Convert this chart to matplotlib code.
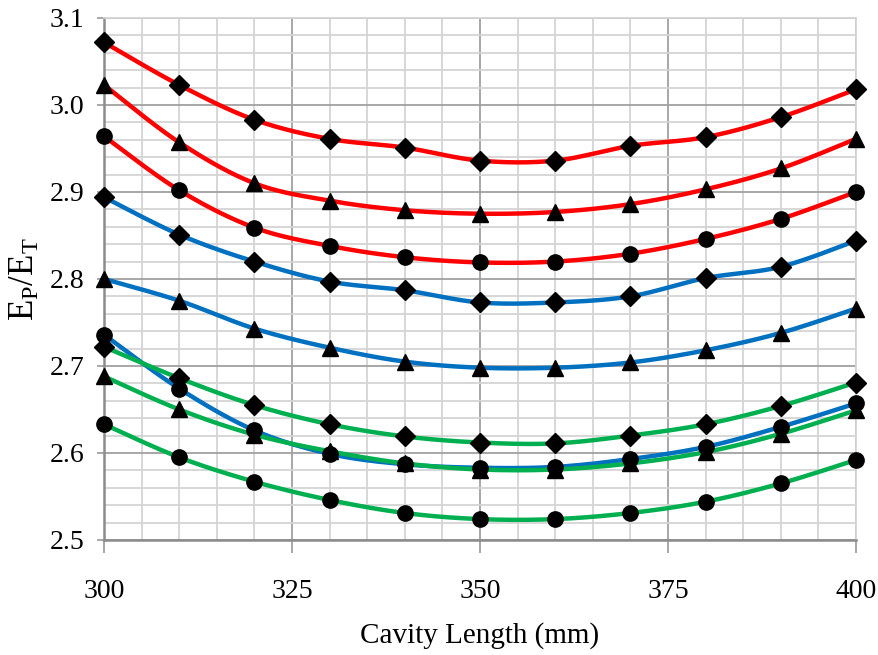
import numpy as np
import matplotlib
matplotlib.use("Agg")
import matplotlib.pyplot as plt
from matplotlib.ticker import MultipleLocator

plt.rcParams['font.family'] = ['Liberation Serif', 'DejaVu Serif']
plt.rcParams['mathtext.fontset'] = 'custom'
plt.rcParams['mathtext.rm'] = 'Liberation Serif'
plt.rcParams['mathtext.it'] = 'Liberation Serif'

cavity_length = [300, 310, 320, 330, 340, 350, 360, 370, 380, 390, 400]

red_diamond   = [3.072, 3.023, 2.983, 2.961, 2.951, 2.936, 2.936, 2.953, 2.963, 2.986, 3.018]
red_triangle  = [3.023, 2.957, 2.910, 2.890, 2.879, 2.875, 2.877, 2.886, 2.903, 2.927, 2.961]
red_circle    = [2.964, 2.902, 2.859, 2.838, 2.825, 2.819, 2.820, 2.829, 2.846, 2.869, 2.900]
blue_diamond  = [2.894, 2.851, 2.820, 2.797, 2.787, 2.773, 2.773, 2.780, 2.801, 2.814, 2.844]
blue_triangle = [2.800, 2.775, 2.743, 2.721, 2.705, 2.698, 2.698, 2.704, 2.718, 2.738, 2.766]
blue_circle   = [2.736, 2.674, 2.626, 2.599, 2.587, 2.583, 2.584, 2.593, 2.607, 2.630, 2.657]
green_diamond = [2.722, 2.686, 2.655, 2.633, 2.619, 2.612, 2.611, 2.620, 2.633, 2.654, 2.681]
green_triangle= [2.688, 2.650, 2.621, 2.602, 2.588, 2.581, 2.581, 2.588, 2.601, 2.622, 2.649]
green_circle  = [2.633, 2.595, 2.567, 2.546, 2.531, 2.524, 2.524, 2.531, 2.544, 2.565, 2.592]

RED, BLUE, GREEN = '#FF0000', '#0070C0', '#00B050'
series = [
    (red_diamond, RED, 'D'), (red_triangle, RED, '^'), (red_circle, RED, 'o'),
    (blue_diamond, BLUE, 'D'), (blue_triangle, BLUE, '^'), (blue_circle, BLUE, 'o'),
    (green_diamond, GREEN, 'D'), (green_triangle, GREEN, '^'), (green_circle, GREEN, 'o'),
]

def smooth(xs, ys, n=30):
    """Excel-like smoothed line (Catmull-Rom / cubic Bezier through points)."""
    P = np.column_stack([xs, ys]).astype(float)
    ext = np.vstack([P[0], P, P[-1]])
    out = []
    t = np.linspace(0, 1, n)
    for i in range(1, len(ext) - 2):
        p0, p1, p2, p3 = ext[i - 1], ext[i], ext[i + 1], ext[i + 2]
        c1 = p1 + (p2 - p0) / 6.0
        c2 = p2 - (p3 - p1) / 6.0
        seg = ((1 - t) ** 3)[:, None] * p1 + (3 * (1 - t) ** 2 * t)[:, None] * c1 \
            + (3 * (1 - t) * t ** 2)[:, None] * c2 + (t ** 3)[:, None] * p2
        out.append(seg if i == 1 else seg[1:])
    out = np.vstack(out)
    return out[:, 0], out[:, 1]

fig = plt.figure(figsize=(8.79, 6.55), dpi=100)
ax = fig.add_axes([0.1183, 0.1756, 0.8555, 0.797])

ax.set_xlim(300, 400)
ax.set_ylim(2.5, 3.1)
ax.xaxis.set_major_locator(MultipleLocator(25))
ax.xaxis.set_minor_locator(MultipleLocator(5))
ax.yaxis.set_major_locator(MultipleLocator(0.1))
ax.yaxis.set_minor_locator(MultipleLocator(0.02))
ax.grid(which='minor', color='#d4d4d4', linewidth=1.3)
ax.grid(which='major', color='#a0a0a0', linewidth=1.3)
ax.set_axisbelow(True)

for s in ['top', 'right']:
    ax.spines[s].set_color('#d4d4d4')
    ax.spines[s].set_linewidth(1.3)
for s in ['left', 'bottom']:
    ax.spines[s].set_color('#8c8c8c')
    ax.spines[s].set_linewidth(1.8)

ax.tick_params(which='major', axis='x', length=9, color='#a0a0a0', width=1.3,
               labelsize=20, pad=19)
ax.tick_params(which='major', axis='y', length=5, color='#a0a0a0', width=1.3,
               labelsize=20, pad=9)
ax.tick_params(which='minor', length=0)
ax.yaxis.set_major_formatter(matplotlib.ticker.FormatStrFormatter('%.1f'))

for ys, col, mk in series:
    sx, sy = smooth(cavity_length, ys)
    ax.plot(sx, sy, color=col, lw=3.2, solid_capstyle='round', zorder=2)
    ax.plot(cavity_length, ys, linestyle='none', marker=mk, color='black',
            markersize=11 if mk != 'D' else 10.5, zorder=3, clip_on=False)

ax.set_xlabel('Cavity Length (mm)', fontsize=21, labelpad=13)
ax.set_ylabel(r'E$_\mathregular{P}$/E$_\mathregular{T}$', fontsize=25, labelpad=6)

fig.savefig('out.png', dpi=100)
